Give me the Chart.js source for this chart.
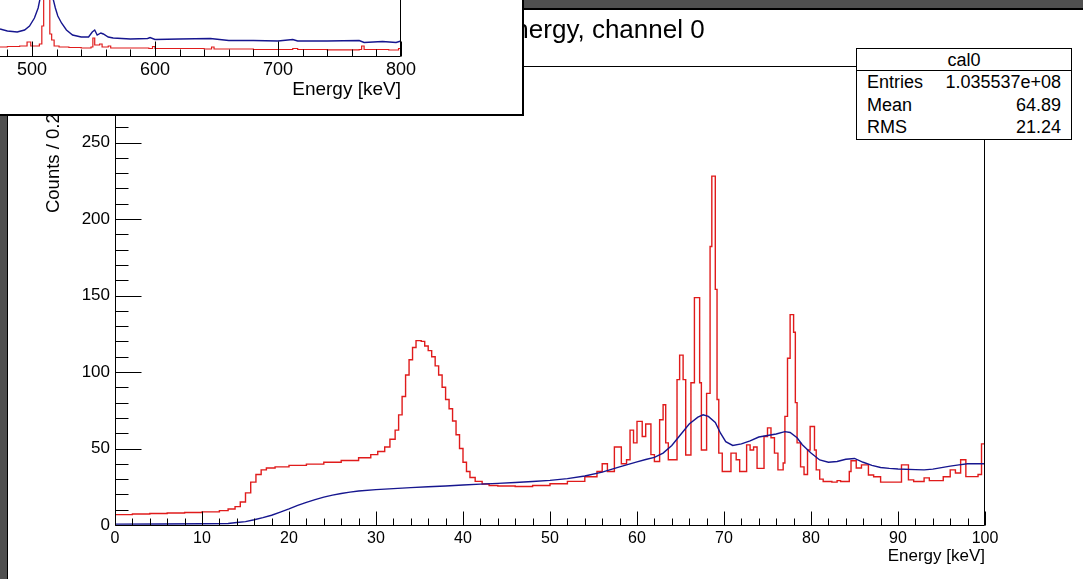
<!DOCTYPE html>
<html>
<head>
<meta charset="utf-8">
<title>Energy, channel 0</title>
<script src="https://cdn.jsdelivr.net/npm/chart.js@4.4.1/dist/chart.umd.min.js"></script>
<style>
  body { margin: 0; background: #fff; }
  #wrap { position: relative; width: 1083px; height: 579px; overflow: hidden; background: #fff; }
  #mainCanvas { position: absolute; left: 0; top: 0; z-index: 1; }
  #title { position: absolute; left: 497px; top: 14px; z-index: 2; font: 26px/30px "Liberation Sans", Arial, sans-serif; color: #000; white-space: nowrap; }
  .strip { position: absolute; background: #505050; z-index: 3; }
  #stripTop { left: 524px; top: 0; width: 559px; height: 8px; border-bottom: 2px solid #000; }
  #stripLeft { left: 0; top: 116px; width: 7px; height: 463px; border-right: 1px solid #000; }
  #stats { position: absolute; left: 856px; top: 48px; width: 216px; height: 92px; box-sizing: border-box; z-index: 4;
           border: 1px solid #000; background: #fff; font: 18px "Liberation Sans", Arial, sans-serif; color: #000; }
  #stats .head { height: 21px; line-height: 23px; text-align: center; border-bottom: 1px solid #000; }
  #stats .row { display: flex; justify-content: space-between; padding: 0 10px; height: 22.6px; line-height: 23px; }
  #inset { position: absolute; left: 0; top: 0; width: 522px; height: 114px; background: #fff; z-index: 5;
           border-right: 2px solid #000; border-bottom: 2px solid #000; }
  #insetCanvas { position: absolute; left: 0; top: 0; }
</style>
</head>
<body>
<div id="wrap">
  <canvas id="mainCanvas" width="1083" height="579"></canvas>
  <div id="title">Energy, channel 0</div>
  <div class="strip" id="stripTop"></div>
  <div class="strip" id="stripLeft"></div>
  <div id="stats">
    <div class="head">cal0</div>
    <div class="row"><span>Entries</span><span>1.035537e+08</span></div>
    <div class="row"><span>Mean</span><span>64.89</span></div>
    <div class="row"><span>RMS</span><span>21.24</span></div>
  </div>
  <div id="inset"><canvas id="insetCanvas" width="522" height="114"></canvas></div>
</div>
<script>
// main spectrum, 0-100 keV (red = stepped histogram, blue = smooth one)
var redEnergy = [0,2,4,6,8,10,12,13,13.8,14.4,15,15.6,16.2,16.8,17.4,18.4,20,22,24,26,
  28,29.4,30.2,31,31.6,32.2,32.6,33,33.4,33.8,34.2,34.6,35.2,35.6,36,36.4,36.8,37.2,37.6,38,
  38.4,38.8,39.2,39.6,40,40.4,40.8,41.4,42.2,43,44,46,48,50,52,54,55.4,56,56.6,57.4,
  58.2,58.8,59.2,59.6,60,60.6,61,61.6,62,62.6,63,63.3,63.6,64.6,64.9,65.3,65.6,66.2,66.6,67.2,
  67.4,68,68.4,68.6,69,69.2,69.4,69.8,70.8,71.4,71.8,72.6,73,73.4,73.8,74.6,75,75.4,75.8,76.2,
  76.8,77,77.3,77.6,78,78.2,78.4,78.8,79.2,79.6,79.9,80.4,80.6,81,81.4,82.4,83,83.4,84.4,84.6,
  85.2,85.8,86.6,87.2,88,90.4,91.2,91.8,93,93.6,95.2,96,96.6,97.2,97.8,99.2,99.6,100];
var redCounts = [6.8,7.2,7.5,7.8,8.2,8.6,9.4,10.5,12,15,21,28,33,36,37.3,38,39,39.8,41,42.2,
  44,46,48,51,56,62,72,84,98,108,116,120.5,120,117,114,110,104,98,90,82,
  76,68,59,50,41,35,31,28.5,26.8,25.8,25.5,25.2,25.8,27,28.5,31.5,35,40,35,51,
  40,42.6,62,53.7,67.7,57.8,66,46,41.5,68.8,78.6,53.7,42.6,95,111,95,45.8,93,148.6,93,
  49,86,182,228,154,82,47,35,47,42.6,35,52.4,49,51,37,57.8,63.5,57,47,36,
  40.5,71,109,137.5,126,80,53.7,38,33,49,64.4,49,36,30,28.4,28,29,28.4,35,42,
  37.3,39.3,32.7,31.5,28,39.3,29.5,28.4,30.8,29,31.5,36,34,42.6,31.6,33,53,53];

var blueEnergy = [0,5,10,13,14,15,16,17,18,19,20,21,22,23,24,25,26,27,28,30,32,34,36,38,40,42,44,46,48,50,
  52,54,56,58,60,61,62,63,64,65,66,67,67.6,68.2,69,69.6,70.2,71,72,73,74,75,76,77,77.6,78.4,
  79,80,81,82,83,84,85,86,87,88,89,90,92,93,94,95,96,97,98,99,100];
var blueCounts = [0.6,0.7,0.8,1,1.6,2.2,3.4,4.8,6.4,8.4,10.5,12.8,14.8,16.6,18.2,19.5,20.6,21.5,22.2,
  23.1,23.8,24.4,25,25.5,26.1,26.7,27.2,27.8,28.4,29.2,30.3,32,34.6,38,41.3,
  42.8,44.2,47,52,59,66,70.5,72,71,67,60,54.5,52,53,55,57.5,58.5,59.5,61,60.5,57,
  52.5,47,42.5,41,41.5,43,43.5,41,39,37.6,37,36.6,36.2,36,36.5,37.5,38.5,39.3,40,40,40];

// inset, 474-800 keV (arbitrary count units, annihilation peak goes off the top)
var insetRedEnergy = [474,480,490,496,499,506,508,509.5,513,514.5,516,518,522,530,540,548,549.5,551,555,557,
  562,564,580,595,598,600,620,640,646,648,680,700,712,716,740,766,768,770,790,798,800];
var insetRedCounts = [9,9.5,10,14,10,12,30,200,120,22,16,10,9,8.5,8,9,18,11,12,9,
  10,8,8,7.5,9.5,7.5,7.5,7,9,7,6.5,6.5,7.5,6.5,6.2,6.5,10,6.5,6,7.5,8];
var insetBlueEnergy = [474,480,488,494,498,502,505,507,509,511,513,515,517,519,521,524,528,533,540,546,
  549,551,553,556,558,562,566,580,594,596,600,620,645,660,680,700,712,716,740,766,770,785,796,800];
var insetBlueCounts = [27,25,24,26,30,38,48,60,90,130,120,80,58,48,40,33,26,21,19,19,
  24,26,21,23,22,19,18,17,17.5,18.5,16.5,17,17.5,15.5,15.5,15,16.5,15,15,15.5,13.5,14.5,13.5,15];
var insetTicks = [500, 600, 700, 800];

var red = '#e01b1b';
var blue = '#16168f';

Chart.defaults.font.family = '"Liberation Sans", Arial, sans-serif';
Chart.defaults.color = '#000';

function points(xs, ys) {
  var out = [];
  for (var i = 0; i < xs.length; i++) {
    out.push({ x: xs[i], y: ys[i] });
  }
  return out;
}

// ROOT style frame + ticks pointing into the plot
var rootAxes = {
  id: 'rootAxes',
  afterDraw: function (chart, args, o) {
    var ctx = chart.ctx;
    var area = chart.chartArea;
    var xs = chart.scales.x, ys = chart.scales.y;
    var left = Math.round(area.left) + 0.5;
    var right = Math.round(area.right) - 0.5;
    var top = Math.round(area.top) + 0.5;
    var bottom = Math.round(area.bottom) + 0.5;
    var v, p, len;
    ctx.save();
    ctx.strokeStyle = '#000';
    ctx.lineWidth = 1;
    ctx.beginPath();
    if (o.fullFrame) {
      ctx.rect(left, top, right - left, bottom - top);
    } else {
      ctx.moveTo(area.left, bottom);
      ctx.lineTo(right, bottom);
      ctx.lineTo(right, area.top);
    }
    for (v = Math.ceil(xs.min / o.xMinor) * o.xMinor; v <= xs.max; v += o.xMinor) {
      p = Math.round(xs.getPixelForValue(v)) + 0.5;
      len = (v % o.xMajor === 0) ? o.xLen[1] : o.xLen[0];
      ctx.moveTo(p, bottom);
      ctx.lineTo(p, bottom - len);
    }
    if (o.yMinor) {
      for (v = Math.ceil(ys.min / o.yMinor) * o.yMinor; v <= ys.max; v += o.yMinor) {
        p = Math.round(ys.getPixelForValue(v)) + 0.5;
        len = (v % o.yMajor === 0) ? o.yLen[1] : o.yLen[0];
        ctx.moveTo(left, p);
        ctx.lineTo(left + len, p);
      }
    }
    ctx.stroke();
    ctx.restore();
  }
};

new Chart(document.getElementById('mainCanvas'), {
  type: 'line',
  data: {
    datasets: [
      { data: points(blueEnergy, blueCounts), borderColor: blue, borderWidth: 1.4, pointRadius: 0, fill: false },
      { data: points(redEnergy, redCounts), stepped: true, borderColor: red, borderWidth: 1.4, pointRadius: 0, fill: false }
    ]
  },
  options: {
    responsive: false,
    animation: false,
    events: [],
    layout: { padding: { left: 0, right: 98, top: 66, bottom: 0 } },
    plugins: {
      legend: { display: false },
      tooltip: { enabled: false },
      rootAxes: { fullFrame: true, xMinor: 2, xMajor: 10, xLen: [7, 14], yMinor: 10, yMajor: 50, yLen: [13, 26] }
    },
    scales: {
      x: {
        type: 'linear', min: 0, max: 100,
        ticks: { stepSize: 10, padding: 4, maxRotation: 0, font: { size: 16 } },
        grid: { display: false, drawTicks: false },
        border: { display: false },
        title: { display: true, text: 'Energy [keV]', align: 'end', font: { size: 17 }, padding: { top: 0, bottom: 12 } },
        afterFit: function (s) { s.height = 54; }
      },
      y: {
        min: 0, max: 300,
        ticks: { stepSize: 50, padding: 5, font: { size: 17 } },
        grid: { display: false, drawTicks: false },
        border: { display: false },
        title: { display: true, text: 'Counts / 0.20 keV', align: 'end', font: { size: 18.5 }, padding: { top: 43, bottom: 0 } },
        afterFit: function (s) { s.width = 115; }
      }
    }
  },
  plugins: [rootAxes]
});

new Chart(document.getElementById('insetCanvas'), {
  type: 'line',
  data: {
    datasets: [
      { data: points(insetBlueEnergy, insetBlueCounts), borderColor: blue, borderWidth: 1.4, pointRadius: 0, fill: false },
      { data: points(insetRedEnergy, insetRedCounts), stepped: true, borderColor: red, borderWidth: 1.2, pointRadius: 0, fill: false }
    ]
  },
  options: {
    responsive: false,
    animation: false,
    events: [],
    layout: { padding: { left: 0, right: 121, top: 0, bottom: 0 } },
    plugins: {
      legend: { display: false },
      tooltip: { enabled: false },
      rootAxes: { fullFrame: false, xMinor: 20, xMajor: 100, xLen: [7, 15] }
    },
    scales: {
      x: {
        type: 'linear', min: 474, max: 800,
        afterBuildTicks: function (s) {
          s.ticks = insetTicks.map(function (v) { return { value: v }; });
        },
        ticks: { padding: 3, maxRotation: 0, autoSkip: false, font: { size: 18 } },
        grid: { display: false, drawTicks: false },
        border: { display: false },
        title: { display: true, text: 'Energy [keV]', align: 'end', font: { size: 19 }, padding: { top: 0, bottom: 12.6 } },
        afterFit: function (s) { s.height = 58; }
      },
      y: { display: false, min: 0, max: 56 }
    }
  },
  plugins: [rootAxes]
});
</script>
</body>
</html>
